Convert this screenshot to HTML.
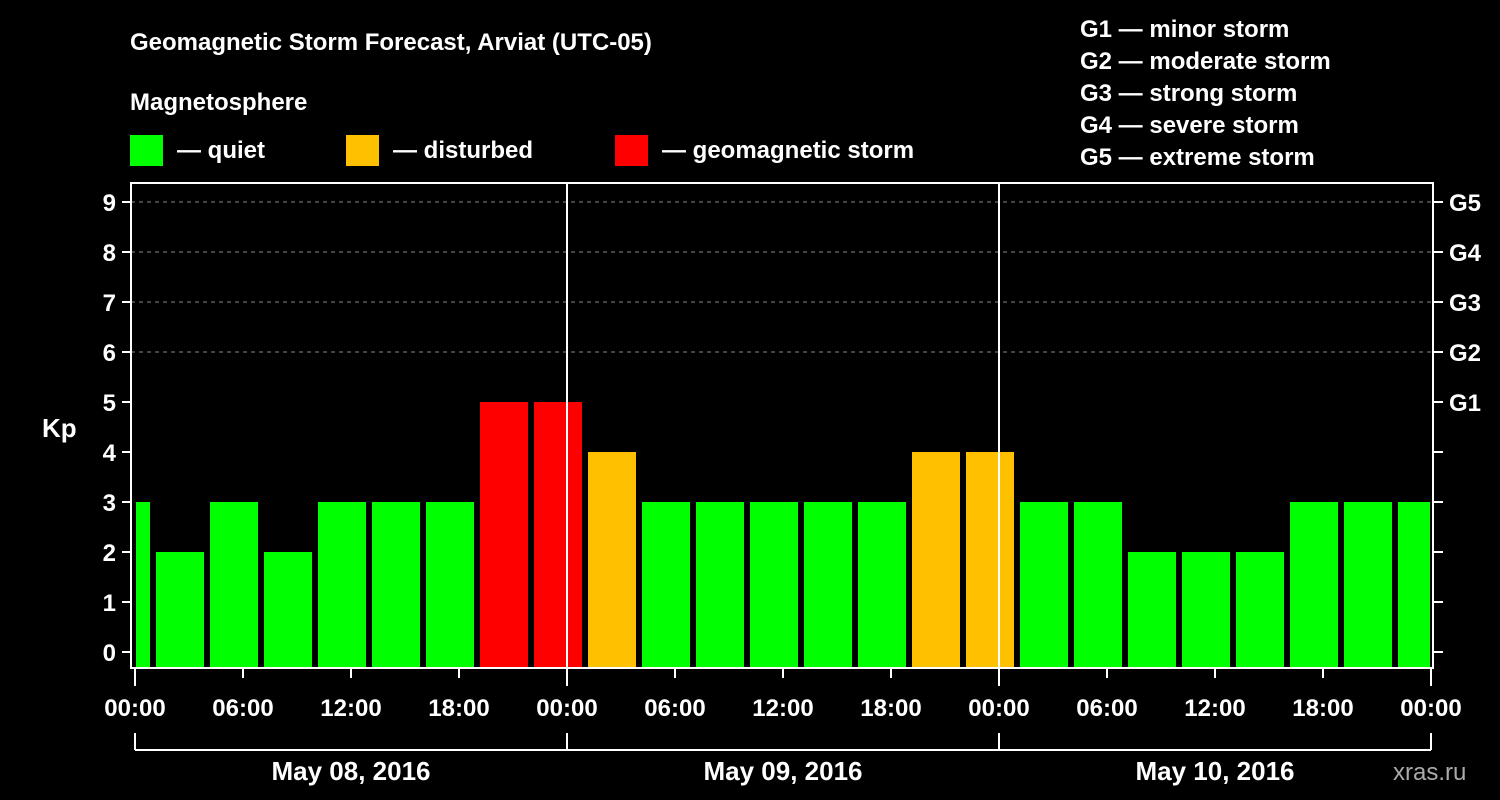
<!DOCTYPE html>
<html><head><meta charset="utf-8"><style>
body{margin:0;background:#000;width:1500px;height:800px;overflow:hidden}
svg{display:block}
text{font-family:"Liberation Sans",sans-serif;font-weight:bold;fill:#fff}
</style></head><body>
<svg id="c" width="1500" height="800">
<text x="130" y="50" font-size="24">Geomagnetic Storm Forecast, Arviat (UTC-05)</text>
<text x="130" y="110" font-size="24">Magnetosphere</text>
<rect x="130" y="135" width="33" height="31" fill="#00ff00"/>
<text x="177" y="158" font-size="24">— quiet</text>
<rect x="346" y="135" width="33" height="31" fill="#ffc000"/>
<text x="393" y="158" font-size="24">— disturbed</text>
<rect x="615" y="135" width="33" height="31" fill="#ff0000"/>
<text x="662" y="158" font-size="24">— geomagnetic storm</text>
<g font-size="24">
<text x="1080" y="37">G1 — minor storm</text>
<text x="1080" y="69">G2 — moderate storm</text>
<text x="1080" y="101">G3 — strong storm</text>
<text x="1080" y="133">G4 — severe storm</text>
<text x="1080" y="165">G5 — extreme storm</text>
</g>
<text x="42" y="437" font-size="26">Kp</text>
<text x="1393" y="780" font-size="24" fill="#aaa" style="fill:#aaa;font-weight:normal">xras.ru</text>
<g id="plot"></g>
</svg>
<script>
const values=[3,2,3,2,3,3,3,5,5,4,3,3,3,3,3,4,4,3,3,2,2,2,3,3,3];
const startHours=[-2,1,4,7,10,13,16,19,22,25,28,31,34,37,40,43,46,49,52,55,58,61,64,67,70];
const yTicks=[0,1,2,3,4,5,6,7,8,9];
const gLabels=["G1","G2","G3","G4","G5"];
const xTickLabels=["00:00","06:00","12:00","18:00","00:00","06:00","12:00","18:00","00:00","06:00","12:00","18:00","00:00"];
const dayLabels=["May 08, 2016","May 09, 2016","May 10, 2016"];
const NS="http://www.w3.org/2000/svg";
const L=131,R=1433,T=183,B=668,X0=135,PXH=18;
const xs=h=>X0+h*PXH;
const ys=v=>652-v*50;
const g=document.getElementById('plot');
function mk(t,a){const e=document.createElementNS(NS,t);for(const k in a)e.setAttribute(k,a[k]);g.appendChild(e);return e;}
function col(v){return v>=5?'#ff0000':v>=4?'#ffc000':'#00ff00';}
// grid
for(let v=6;v<=9;v++){const e=mk('line',{x1:L,x2:R,y1:ys(v),y2:ys(v),stroke:'#888','stroke-dasharray':'4,4'});

}
// bars
values.forEach((v,i)=>{let x1=Math.max(xs(startHours[i])+3,L+5),x2=Math.min(xs(startHours[i]+3)-3,R-3);
const r=mk('rect',{x:x1,y:ys(v),width:x2-x1,height:B-ys(v),fill:col(v)});

});
// frame
const f=mk('rect',{x:L,y:T,width:R-L,height:B-T,fill:'none',stroke:'#fff','stroke-width':2});


[24,48].forEach(h=>{const e=mk('line',{x1:xs(h),x2:xs(h),y1:T,y2:B,stroke:'#fff','stroke-width':2});

});
yTicks.forEach(v=>{mk('line',{x1:122,x2:L,y1:ys(v),y2:ys(v),stroke:'#fff','stroke-width':2});
mk('line',{x1:R,x2:1443,y1:ys(v),y2:ys(v),stroke:'#fff','stroke-width':2});
const t=mk('text',{x:116,y:ys(v)+9,'font-size':24,'text-anchor':'end'});t.textContent=v;

});
gLabels.forEach((s,i)=>{const t=mk('text',{x:1449,y:ys(5+i)+9,'font-size':24});t.textContent=s;

});
xTickLabels.forEach((s,i)=>{const x=xs(i*6);mk('line',{x1:x,x2:x,y1:B,y2:i%4==0?686:678,stroke:'#fff','stroke-width':2});
const t=mk('text',{x:x,y:716,'font-size':24,'text-anchor':'middle'});t.textContent=s;

});
mk('line',{x1:xs(0),x2:xs(72),y1:750,y2:750,stroke:'#fff','stroke-width':2});
[0,24,48,72].forEach(h=>mk('line',{x1:xs(h),x2:xs(h),y1:733,y2:750,stroke:'#fff','stroke-width':2}));
dayLabels.forEach((s,i)=>{const t=mk('text',{x:xs(i*24+12),y:780,'font-size':26,'text-anchor':'middle'});t.textContent=s;

});
</script>
</body></html>
